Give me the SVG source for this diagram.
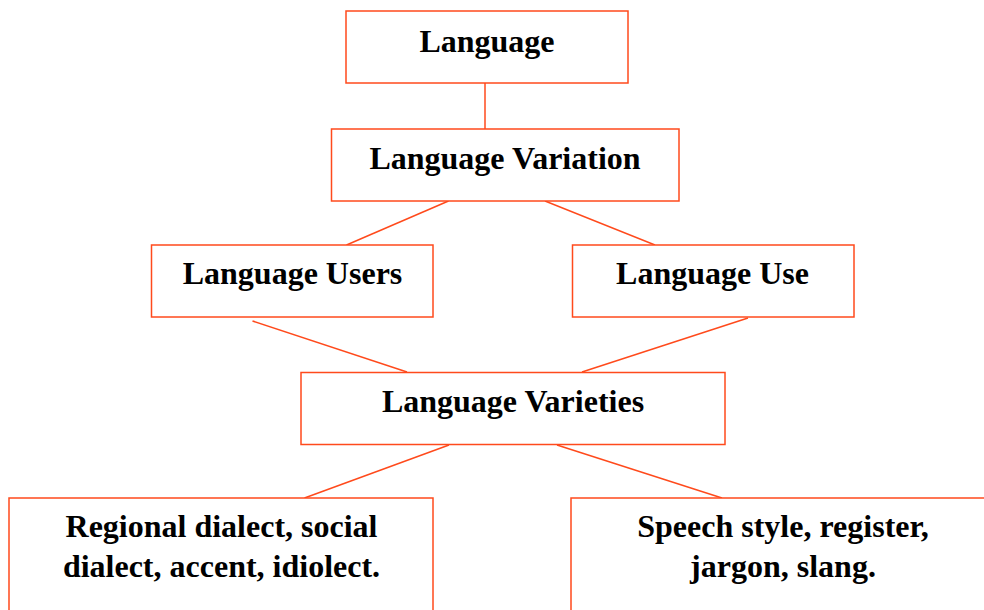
<svg xmlns="http://www.w3.org/2000/svg" width="984" height="610" viewBox="0 0 984 610">
  <style>
    .box { fill: #ffffff; stroke: #ff4a1c; stroke-width: 1.5; }
    .edge { stroke: #ff4a1c; stroke-width: 1.5; fill: none; }
    .label { font-family: "Liberation Serif", "Times New Roman", serif; font-weight: bold; font-size: 32px; fill: #000000; text-anchor: middle; }
  </style>
  <rect width="984" height="610" fill="#ffffff"/>

  <g id="connectors">
    <line class="edge" x1="485" y1="83" x2="485" y2="129"/>
    <line class="edge" x1="448.5" y1="201" x2="346.5" y2="245"/>
    <line class="edge" x1="545" y1="201" x2="655" y2="245"/>
    <line class="edge" x1="252.5" y1="321" x2="407" y2="372"/>
    <line class="edge" x1="748" y1="318" x2="582" y2="372"/>
    <line class="edge" x1="449" y1="445" x2="304.5" y2="498"/>
    <line class="edge" x1="557" y1="445" x2="722" y2="498"/>
  </g>

  <g id="language">
    <rect class="box" x="346" y="11" width="282" height="72"/>
    <text class="label" x="487" y="52">Language</text>
  </g>

  <g id="language-variation">
    <rect class="box" x="331.5" y="129" width="347.5" height="72"/>
    <text class="label" x="505" y="169">Language Variation</text>
  </g>

  <g id="language-users">
    <rect class="box" x="151.5" y="245" width="281.5" height="72"/>
    <text class="label" x="292.5" y="284">Language Users</text>
  </g>

  <g id="language-use">
    <rect class="box" x="572.5" y="245" width="281.5" height="72"/>
    <text class="label" x="712.5" y="284">Language Use</text>
  </g>

  <g id="language-varieties">
    <rect class="box" x="301" y="372.5" width="424" height="72"/>
    <text class="label" x="513" y="412">Language Varieties</text>
  </g>

  <g id="user-varieties">
    <rect class="box" x="9" y="498" width="424" height="130"/>
    <text class="label" x="221.5" y="537">Regional dialect, social</text>
    <text class="label" x="221.5" y="577">dialect, accent, idiolect.</text>
  </g>

  <g id="use-varieties">
    <rect class="box" x="571" y="498" width="424" height="130"/>
    <text class="label" x="783" y="537">Speech style, register,</text>
    <text class="label" x="783" y="577">jargon, slang.</text>
  </g>
</svg>
